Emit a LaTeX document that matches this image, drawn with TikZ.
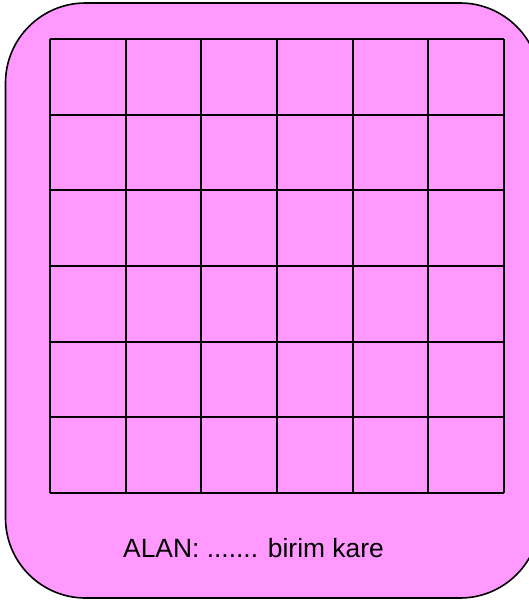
\documentclass[tikz,border=0pt]{standalone}
\usepackage{fontspec}
\setmainfont{Liberation Sans}
\begin{document}
\begin{tikzpicture}[x=1pt,y=-1pt,
  frame/.style={draw=black,line width=1.6pt,fill=pinkfill,rounded corners=80pt},
  gridline/.style={draw=black,line width=1.8pt}]
\definecolor{pinkfill}{HTML}{FF99FF}
\useasboundingbox (0,0) rectangle (529,600);
\path[frame] (5.5,3) rectangle (540,598);
\foreach \i in {0,...,6}{
  \draw[gridline] ({50+\i*75.67},39) -- ({50+\i*75.67},493);
  \draw[gridline] (50,{39+\i*75.67}) -- (504,{39+\i*75.67});
}
\node[font=\fontsize{26.4}{30}\selectfont,inner sep=0pt] (lbl) at (253.5,548) {ALAN: ....... birim kare};
\end{tikzpicture}
\end{document}
